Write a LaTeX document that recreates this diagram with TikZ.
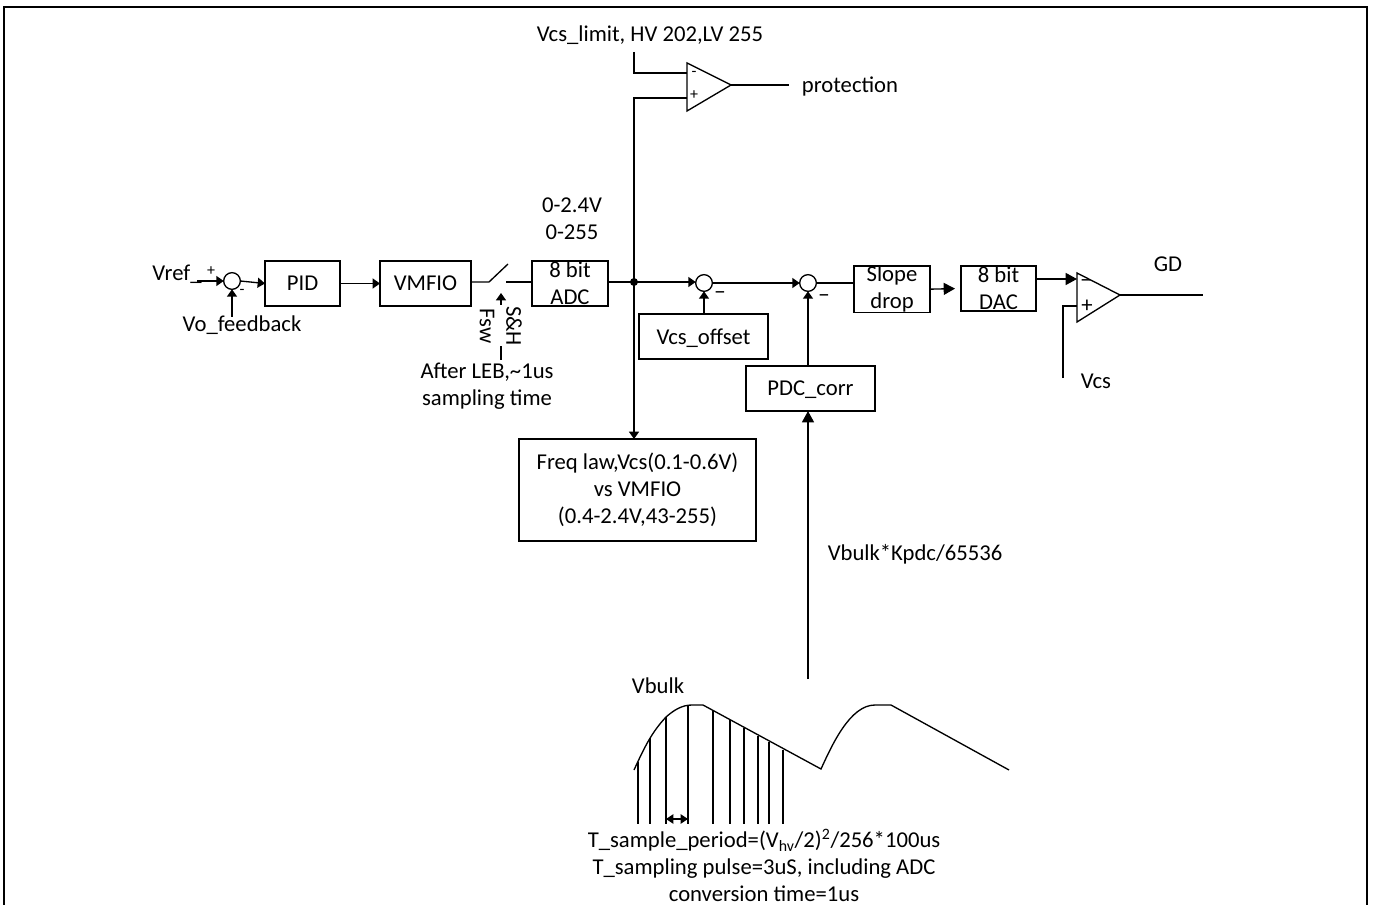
\documentclass[tikz,border=0pt]{standalone}
\usepackage{fontspec}
\setmainfont{Carlito}
\usetikzlibrary{arrows.meta}
\tikzset{
  x=0.75pt,y=-0.75pt,
  every node/.style={font=\fontsize{17}{20.2}\selectfont,inner sep=0pt,outer sep=0pt},
  wire/.style={line width=1pt,black},
  arr/.style={wire,-{Triangle[length=5.5pt,width=7.5pt]}},
  bigarr/.style={wire,-{Triangle[length=8.5pt,width=9pt]}},
  blockbox/.style={draw,line width=1pt,align=center,anchor=north west},
  sumnode/.style={draw,circle,line width=1pt,minimum size=12.5pt},
  lab/.style={align=center},
  smalllab/.style={font=\fontsize{12}{14}\selectfont},
  signlab/.style={font=\fontsize{17}{18}\selectfont},
  pulse/.style={line width=0.85pt},
}
\begin{document}
\begin{tikzpicture}
\useasboundingbox (0,0) rectangle (1373,905);
\draw[line width=1.5pt] (4,7.5) rectangle (1367,908);

% blocks
\node[blockbox,minimum width=56.25pt,minimum height=33.75pt] (pid) at (265,261) {PID};
\node[blockbox,minimum width=68.25pt,minimum height=33.75pt] (vmfio) at (380,261) {VMFIO};
\node[blockbox,minimum width=57pt,minimum height=33.75pt] (adc) at (532,261) {8 bit\\ADC};
\node[blockbox,minimum width=57pt,minimum height=33.75pt] (slope) at (854,266) {Slope\\drop};
\node[blockbox,minimum width=56.25pt,minimum height=33.75pt] (dac) at (961,266) {8 bit\\DAC};
\node[blockbox,minimum width=96.75pt,minimum height=33.75pt,text depth=0pt] (offset) at (639,314) {Vcs\_offset};
\node[blockbox,minimum width=96.75pt,minimum height=33.75pt,text depth=0pt] (pdc) at (746,366) {PDC\_corr};
\node[blockbox,minimum width=177.75pt,minimum height=76.5pt] (freq) at (519,439) {Freq law,Vcs(0.1-0.6V)\\vs VMFIO\\(0.4-2.4V,43-255)};

% summing points and junction
\node[sumnode] (s0) at (232,281) {};
\node[sumnode] (s1) at (704,283) {};
\node[sumnode] (s2) at (808,283) {};
\node[circle,fill,minimum size=6pt] (dot) at (634,282) {};

% comparators
\draw[wire] (687,63) coordinate (c1a) -- (731,85) coordinate (c1o) -- (687,111) coordinate (c1b) -- cycle;
\draw[wire] (1077,273) coordinate (c2a) -- (1120,295) coordinate (c2o) -- (1077,322) coordinate (c2b) -- cycle;
\node[smalllab] (c1m) at (694,74) {-};
\node[smalllab] (c1p) at (694,95) {+};
\node[signlab] (c2m) at (1086,284) {−};
\node[signlab] (c2p) at (1087,306) {+};

% labels
\node[lab] (vref) at (177,274) {Vref\_};
\node[smalllab] (vrefp) at (211,271) {+};
\node[smalllab] (vom) at (242,292) {-};
\node[lab] (vofb) at (242,325.5) {Vo\_feedback};
\node[lab] (range) at (572,219) {0-2.4V\\[0.3pt]0-255};
\node[lab,rotate=-90] (sh) at (514,326) {S\&H};
\node[lab,rotate=-90] (fsw) at (487,326) {Fsw};
\node[lab] (leb) at (487,386) {After LEB,\textasciitilde1us\\sampling time};
\node[lab] (limit) at (650,35) {Vcs\_limit, HV 202,LV 255};
\node[lab] (prot) at (850,86) {protection};
\node[lab] (gd) at (1168,264) {GD};
\node[lab] (vcs) at (1096,381) {Vcs};
\node[lab] (kpdc) at (915,554) {Vbulk*Kpdc/65536};
\node[lab] (vbulk) at (658,686) {Vbulk};
\node[lab] (tsamp) at (764,865.5) {T\_sample\_period=(V\textsubscript{hv}/2)\textsuperscript{2}/256*100us\\T\_sampling pulse=3uS, including ADC\\conversion time=1us};
\node[signlab] (m1) at (720,296) {−};
\node[signlab] (m2) at (824,299) {−};

% free ends
\coordinate (vrefe) at (197,281);
\coordinate (vofbe) at (232,317);
\coordinate (swa) at (489,282);
\coordinate (swb) at (508,264);
\coordinate (swc) at (506,282);
\coordinate (limite) at (634,52);
\coordinate (protA) at (789,85);
\coordinate (gdA) at (1203,295);
\coordinate (vcsE) at (1063,378);
\coordinate (bulkE) at (808,679);
\coordinate (shT) at (501,293);
\coordinate (shB) at (501,305);
\coordinate (dashT) at (501,346);
\coordinate (dashB) at (501,360);

% connectors
\draw[arr] (vrefe) -- (s0.west);
\draw[arr] (vofbe) -- (s0.south);
\draw[arr] (s0.east) -- (pid.west);
\draw[arr] (pid.east) -- (vmfio.west);
\draw[wire] (vmfio.east |- swa) -- (swa) -- (swb);
\draw[wire] (swc) -- (adc.west |- swc);
\draw[arr] (shB) -- (shT);
\draw[wire] (dashT) -- (dashB);
\draw[wire] (adc.east |- dot) -- (dot.center);
\draw[arr] (dot.center) -- (s1.west |- dot);
\draw[arr] (s1.east) -- (s2.west);
\draw[wire] (s2.east) -- (slope.west |- s2);
\draw[bigarr,shorten >=4.5pt] (slope.east) -- (dac.west);
\draw[bigarr] (dac.east |- 1036,279) -- (c2a |- 1036,279);
\draw[wire] (c2o) -- (gdA);
\draw[wire] (vcsE) -- (vcsE |- 0,306) -- (c2a |- 0,306);
\draw[arr] (offset.north -| s1) -- (s1.south);
\draw[arr] (pdc.north -| s2) -- (s2.south);
\draw[bigarr] (bulkE) -- (pdc.south -| bulkE);
\draw[wire] (limite) -- (limite |- 0,73) -- (c1a |- 0,73);
\draw[wire] (dot.center) -- (dot |- 0,98) -- (c1a |- 0,98);
\draw[arr] (dot.center) -- (dot |- freq.north);
\draw[wire] (c1o) -- (protA);

% Vbulk waveform
\draw[wire] (634,770) .. controls (645,746) and (652,732) .. (666,717)
  .. controls (674,710) and (682,705) .. (692,705) -- (703,705) -- (821,769)
  .. controls (832,745) and (850,705) .. (875,705) -- (891,705) -- (1009,770);
\foreach \x/\y in {638/762,650/738,666/717,688/706,713/710,730/720,744/728,758/736,769/742,783/750}
  \draw[pulse] (\x,\y) -- (\x,824);
\draw[wire,{Triangle[length=5.5pt,width=7pt]}-{Triangle[length=5.5pt,width=7pt]}] (666,819) -- (688,819);
\end{tikzpicture}
\end{document}
